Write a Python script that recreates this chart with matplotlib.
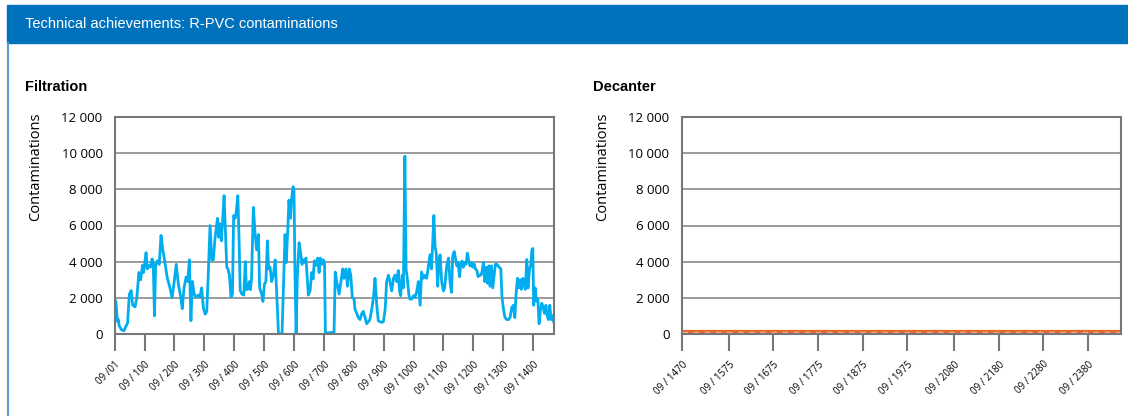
import matplotlib
matplotlib.use("Agg")
import matplotlib.pyplot as plt
from matplotlib.patches import Rectangle
from matplotlib.lines import Line2D
from matplotlib.ticker import FuncFormatter

# Filtration: day index and contaminations
filt_day = [1, 4, 9, 12, 15, 23, 31, 38, 43, 49, 55, 60, 68, 74, 81, 87, 93, 96, 100, 105,
            109, 116, 120, 125, 129, 133, 137, 143, 149, 155, 161, 168, 176, 185, 192, 198,
            206, 213, 221, 226, 232, 239, 244, 250, 255, 260, 266, 272, 280, 285, 291, 297,
            303, 308, 313, 319, 325, 330, 336, 344, 348, 352, 357, 361, 366,
            375, 379, 384, 389, 394, 398, 403, 406, 412, 416, 420, 426, 432, 437, 441, 446,
            451, 454, 458, 464, 470, 475, 481, 485, 492, 496, 501, 506, 511, 515, 520, 525,
            531, 537, 542, 548, 553, 560, 564, 570, 574, 579, 583, 588, 592, 597, 600, 603,
            607, 611, 617, 622, 627, 631, 637, 640, 645, 648, 654, 659, 664, 668, 674, 679,
            684, 688, 693, 698, 702, 705, 709,
            734, 738, 743, 751, 763, 767, 774, 779, 785, 790, 795, 801, 804, 810, 815, 821,
            827, 832, 838, 843, 849, 854, 860, 866, 871, 877, 882, 888, 894, 899, 905, 910,
            916, 921, 927, 933, 938, 944, 949, 953, 957, 962, 966, 971, 975, 979, 984, 988,
            994, 1000, 1005, 1011, 1016, 1022, 1027, 1033, 1039, 1044, 1050, 1055, 1060,
            1064, 1068, 1072, 1076, 1081, 1085,
            1089, 1094, 1100, 1104, 1111, 1117, 1122, 1127, 1131, 1136, 1140, 1145, 1149,
            1154, 1158, 1162, 1167, 1171, 1176, 1180, 1185, 1189, 1194, 1198, 1203, 1207,
            1212, 1216, 1220, 1225, 1229, 1234, 1238, 1243, 1247, 1252, 1256, 1261, 1265,
            1270, 1274, 1278, 1283, 1287, 1292, 1296, 1301, 1306, 1312, 1318, 1323, 1329,
            1334, 1339, 1343, 1348, 1352, 1357, 1361, 1366, 1370, 1374, 1379, 1383, 1388,
            1392, 1396, 1399, 1402, 1407, 1411, 1416, 1420, 1425, 1429, 1434, 1438, 1443,
            1447, 1451, 1456, 1460, 1465, 1469]
filt_val = [1900, 1800, 700, 800, 450, 230, 180, 450, 600, 2200, 2400, 1600, 1500, 2000, 3400,
            3000, 3800, 3400, 3850, 4500, 3600, 3800, 3700, 4150, 3950, 1000, 3800, 4050, 3850,
            5450, 4650, 3950, 3100, 2550, 2000, 2750, 3850, 2750, 2050, 1400, 2550, 3150, 2900,
            4100, 730, 2900, 2200, 2050, 2150, 2050, 2550, 1400, 1100, 1250, 3250, 6000, 4100,
            4100, 5350, 6400, 5350, 6100, 5150, 6200, 7650,
            3700, 3600, 3250, 2050, 2200, 6550, 6400, 6650, 7650, 5350, 2400, 2200, 2150, 4000,
            2450, 2500, 2900, 2450, 3100, 7000, 5500, 4650, 5500, 2550, 2200, 1800, 2750, 2900,
            5150, 3600, 3700, 2900, 3250, 4100, 2200, 50, 0, 50, 2200, 5500, 3950, 5700, 7400,
            6400, 7500, 8150, 7900, 3600, 50, 3100, 5050, 4500, 3850, 4100, 3950, 4200, 2900,
            2150, 2400, 3400, 3050, 4050, 3800, 4200, 3400, 4200, 3850, 4100, 3950, 100, 50,
            100, 3430, 2900, 2210, 3600, 3080, 3600, 2640, 3600, 3250, 2030, 1930, 1360, 1140,
            910, 800, 1140, 1250, 910, 570, 680, 800, 1360, 2030, 3080, 1590, 730, 680, 640,
            680, 1360, 2900, 3250, 2900, 2380, 3080, 3250, 2900, 3510, 2380, 2120, 3250, 2550,
            9830, 3600, 3080, 2210, 1930, 1930, 2120, 2030, 2380, 2900, 1590, 3430, 3080, 3250,
            3080, 3770, 4380, 3600, 5000, 6550, 4820, 4470, 2640, 4120,
            4380, 2900, 2380, 2550, 3770, 4200, 2900, 2300, 4300, 4560, 4200, 3770, 3950, 3170,
            3860, 4030, 3690, 3950, 3860, 4470, 4030, 3770, 3950, 3690, 3860, 3600, 3510, 3170,
            3250, 3250, 3430, 3950, 2900, 3690, 2810, 3770, 2640, 3770, 2550, 3250, 3860, 3860,
            3770, 3690, 3600, 2030, 1360, 910, 800, 800, 910, 1480, 1590, 910, 2210, 3080, 2550,
            3000, 2470, 3080, 2730, 2470, 4120, 2550, 3600, 3770, 4650, 4730, 1590, 2550, 1820,
            1930, 570, 1360, 1700, 1480, 1140, 1590, 1020, 800, 1590, 800, 1020, 680]

filt_ticks = [1, 100, 200, 300, 400, 500, 600, 700, 800, 900, 1000, 1100, 1200, 1300, 1400]
filt_labels = ["09 /01"] + ["09 / %d" % t for t in filt_ticks[1:]]

# Decanter: flat, close to zero over the whole period
dec_day = [1470, 1575, 1675, 1775, 1875, 1975, 2080, 2180, 2280, 2380, 2454]
dec_val = [100, 100, 100, 100, 100, 100, 100, 100, 100, 100, 100]
dec_ticks = [1470, 1575, 1675, 1775, 1875, 1975, 2080, 2180, 2280, 2380]
dec_labels = ["09 / %d" % t for t in dec_ticks]

y_ticks = [0, 2000, 4000, 6000, 8000, 10000, 12000]

W, H = 1128, 416
fig = plt.figure(figsize=(W / 100, H / 100), dpi=100)

# header band and left panel border
fig.patches.append(Rectangle((7 / W, 1 - 43 / H), 1 - 7 / W, 38 / H,
                             transform=fig.transFigure, color="#0071BC", zorder=0))
fig.lines.append(Line2D([7.5 / W, 7.5 / W], [0, 1 - 43 / H], transform=fig.transFigure,
                        color="#5B9BD5", lw=1.5))
fig.text(25 / W, 1 - 24 / H, "Technical achievements: R-PVC contaminations",
         color="white", fontsize=10.5, family="Liberation Sans", va="center")

fmt = FuncFormatter(lambda v, p: "{:,}".format(int(v)).replace(",", " "))


def setup(ax, ticks, labels, xlim, title, title_x):
    ax.set_xlim(*xlim)
    ax.set_ylim(0, 12000)
    ax.set_yticks(y_ticks)
    ax.yaxis.set_major_formatter(fmt)
    ax.set_xticks(ticks)
    ax.set_xticklabels(labels, rotation=45, ha="right", rotation_mode="anchor",
                       fontsize=7, family="Open Sans")
    ax.tick_params(axis="x", length=12, width=1.5, color="#777777", pad=6)
    ax.tick_params(axis="y", length=0, pad=9, labelsize=9.5)
    for lab in ax.get_yticklabels():
        lab.set_family("Open Sans")
    ax.grid(axis="y", color="#8a8a8a", lw=1.2)
    ax.set_axisbelow(True)
    for s in ax.spines.values():
        s.set_color("#777777")
        s.set_linewidth(1.5)
    ax.set_ylabel("Contaminations", fontsize=10.5, family="Open Sans")
    ax.yaxis.set_label_coords(-0.163, 0.77)
    fig.text(title_x / W, 1 - 87 / H, title, fontsize=10.5, fontweight="bold",
             family="Liberation Sans", va="center")


ax1 = fig.add_axes([115 / W, (H - 334) / H, 439 / W, 217 / H])
ax1.plot(filt_day, filt_val, color="#00AEEF", lw=2)
setup(ax1, filt_ticks, filt_labels, (1, 1470), "Filtration", 25)

ax2 = fig.add_axes([682 / W, (H - 334) / H, 439 / W, 217 / H])
ax2.plot(dec_day, dec_val, color="#E8662A", lw=3, solid_capstyle="butt")
ax2.plot(dec_day, dec_val, color="#F6B08A", lw=1, ls=(0, (4, 4)))
setup(ax2, dec_ticks, dec_labels, (1470, 2454), "Decanter", 593)

fig.savefig("out.png", dpi=100)
